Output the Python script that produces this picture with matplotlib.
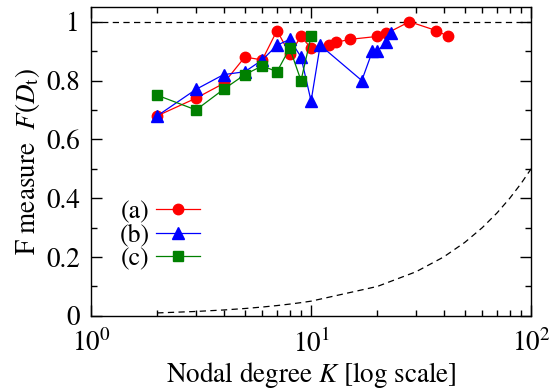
import matplotlib
matplotlib.use("Agg")
import matplotlib.pyplot as plt
from matplotlib.ticker import LogLocator, NullFormatter, FixedLocator

plt.rcParams['font.family'] = ['STIXGeneral', 'DejaVu Serif']
plt.rcParams['mathtext.fontset'] = 'stix'

# series (a)
k_a = [2, 3, 4, 5, 6, 7, 8, 9, 10, 12, 13, 15, 20, 22, 28, 37, 42]
f_a = [0.68, 0.74, 0.79, 0.88, 0.87, 0.97, 0.89, 0.95, 0.91, 0.92, 0.93, 0.94, 0.95, 0.96, 1.0, 0.97, 0.95]
# series (b)
k_b = [2, 3, 4, 5, 6, 7, 8, 9, 10, 11, 17, 19, 20, 22, 23]
f_b = [0.68, 0.77, 0.82, 0.83, 0.87, 0.92, 0.94, 0.88, 0.73, 0.92, 0.80, 0.90, 0.90, 0.93, 0.96]
# series (c)
k_c = [2, 3, 4, 5, 6, 7, 8, 9, 10]
f_c = [0.75, 0.70, 0.77, 0.82, 0.85, 0.83, 0.91, 0.80, 0.95]
# reference curve (dashed)
k_ref = [2, 3, 4, 5, 6, 7, 8, 9, 10, 20, 30, 40, 50, 60, 70, 80, 90, 100]
f_ref = [0.01, 0.015, 0.02, 0.025, 0.03, 0.035, 0.04, 0.045, 0.05, 0.10, 0.15, 0.20, 0.25, 0.30, 0.35, 0.40, 0.45, 0.50]
upper_ref = 1.0

fig = plt.figure(figsize=(5.55, 3.89), dpi=100)
ax = fig.add_axes([0.164, 0.188, 0.793, 0.794])

ax.axhline(upper_ref, color='black', lw=0.9, dashes=(5, 3.5))
ax.plot(k_ref, f_ref, color='black', lw=0.9, dashes=(5, 3.5))

ax.plot(k_a, f_a, '-o', color='#ff0000', lw=0.9, ms=7.5, label='(a)')
ax.plot(k_b, f_b, '-^', color='#0000ff', lw=0.9, ms=8.5, label='(b)')
ax.plot(k_c, f_c, '-s', color='#008000', lw=0.9, ms=7.5, label='(c)')

ax.set_xscale('log')
ax.set_xlim(1, 100)
ax.set_ylim(0, 1.05)
ax.yaxis.set_major_locator(FixedLocator([0, 0.2, 0.4, 0.6, 0.8, 1.0]))
ax.yaxis.set_minor_locator(FixedLocator([0.1, 0.3, 0.5, 0.7, 0.9]))
ax.set_yticklabels(['0', '0.2', '0.4', '0.6', '0.8', '1'])
ax.xaxis.set_minor_locator(LogLocator(base=10, subs=range(2, 10)))
ax.xaxis.set_minor_formatter(NullFormatter())

ax.tick_params(which='both', direction='in', top=True, right=True, labelsize=19.5, width=1)
ax.tick_params(axis='x', which='major', pad=10)
ax.tick_params(axis='y', which='major', pad=8)
ax.tick_params(which='major', length=8)
ax.tick_params(which='minor', length=4)
for s in ax.spines.values():
    s.set_linewidth(1)

ax.set_xlabel('Nodal degree $K$ [log scale]', fontsize=19.5, labelpad=1.5)
ax.set_ylabel('F measure  $F(D_{\\rm t})$', fontsize=19.5, labelpad=3)

leg = ax.legend(loc='lower left', bbox_to_anchor=(0.012, 0.07), frameon=False,
                markerfirst=False, numpoints=1, fontsize=18.5, handlelength=1.7,
                handletextpad=0.25, labelspacing=-0.02, borderaxespad=0.5)

fig.savefig('out.png', dpi=100)
